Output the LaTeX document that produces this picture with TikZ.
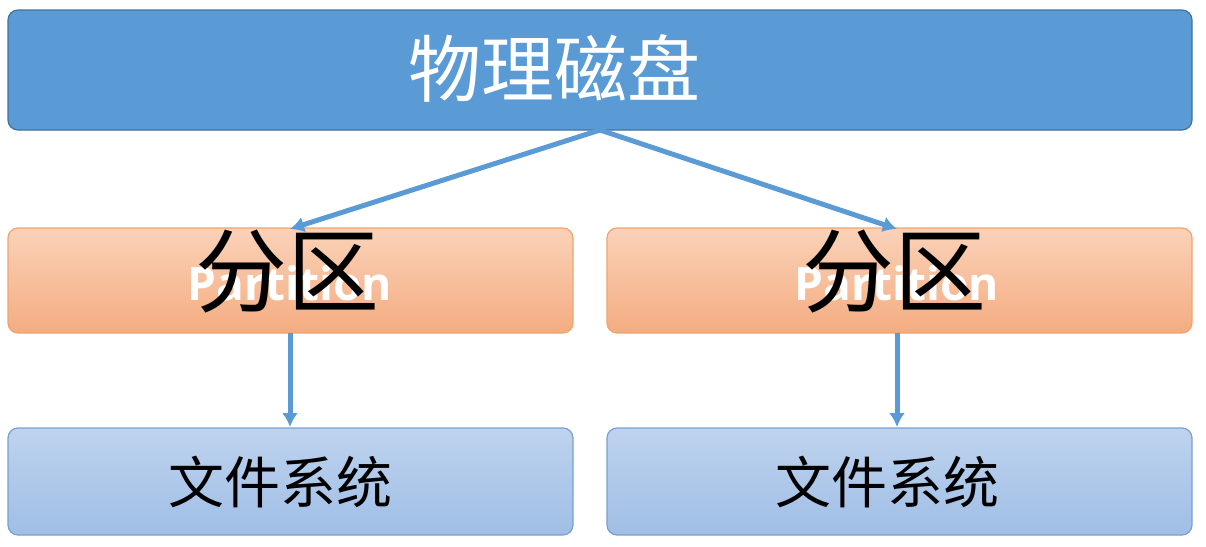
\documentclass[tikz,border=0pt]{standalone}
\usepackage{fontspec}
\usetikzlibrary{arrows.meta}
\newfontfamily\cjk{Noto Sans CJK SC}
\newfontfamily\lat{Open Sans}
\begin{document}
\begin{tikzpicture}[x=1pt,y=-1pt,
  box/.style={rounded corners=10pt,line width=1.2pt},
  arr/.style={draw={rgb,255:red,91;green,155;blue,213},line width=5pt,-{Latex[length=14pt,width=16pt]}}]
\useasboundingbox (0,0) rectangle (1206,546);
\definecolor{tb}{RGB}{91,155,213}
\definecolor{tbd}{RGB}{65,113,156}
\definecolor{po}{RGB}{237,125,49}
\definecolor{pl}{RGB}{250,210,185}
\definecolor{pd}{RGB}{244,172,128}
\definecolor{bl}{RGB}{190,211,238}
\definecolor{bd}{RGB}{160,190,230}
\definecolor{bb}{RGB}{120,160,210}
\draw[box,fill=tb,draw=tbd] (8,10) rectangle (1192,130);
\node[text=white,font=\cjk\fontsize{73}{73}\selectfont] (top) at (554,68) {物理磁盘};
\coordinate (tp) at (600,130);
\foreach \n/\a/\b/\c in {L/8/573/290,R/607/1192/897}{
  \draw[box,top color=pl,bottom color=pd,draw=po!70] (\a,228) rectangle (\b,333);
  \node[text=white,font=\lat\bfseries\fontsize{46}{46}\selectfont] (pt\n) at (\c,283) {Partition};
  \node[font=\cjk\fontsize{92}{92}\selectfont] (p\n) at (\c-3,272) {分区};
  \draw[box,top color=bl,bottom color=bd,draw=bb] (\a,428) rectangle (\b,535);
  \node[font=\cjk\fontsize{56}{56}\selectfont] (f\n) at (\c-10,482) {文件系统};
  \coordinate (pin\n) at (\c,229);
  \coordinate (pout\n) at (\c,333);
  \coordinate (fin\n) at (\c,427);
  \draw[arr] (tp) -- (pin\n);
  \draw[arr] (pout\n) -- (fin\n);
}
\end{tikzpicture}
\end{document}
